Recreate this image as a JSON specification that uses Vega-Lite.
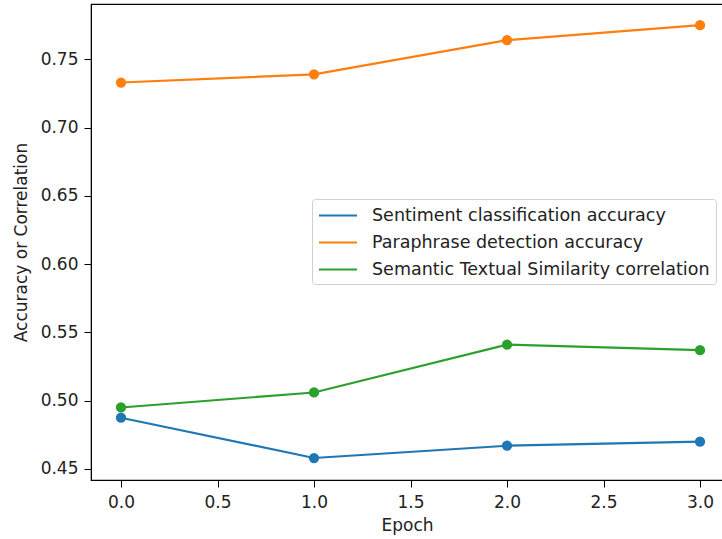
{
  "$schema": "https://vega.github.io/schema/vega-lite/v6.json",
  "autosize": {"type": "none"},
  "width": 632,
  "height": 476,
  "padding": {"left": 91, "top": 4, "right": 0, "bottom": 59},
  "background": "white",
  "config": {
    "view": {"stroke": "#000", "strokeWidth": 1.2},
    "font": "DejaVu Sans",
    "axis": {
      "grid": false,
      "domainColor": "#000",
      "tickColor": "#000",
      "tickSize": 7,
      "labelFontSize": 17,
      "labelColor": "#222",
      "titleFontSize": 17,
      "titleFontWeight": "normal",
      "titleColor": "#222",
      "labelFont": "DejaVu Sans",
      "titleFont": "DejaVu Sans"
    }
  },
  "data": {
    "values": [
      {"epoch": 0, "metric": "Sentiment classification accuracy", "value": 0.4875},
      {"epoch": 1, "metric": "Sentiment classification accuracy", "value": 0.458},
      {"epoch": 2, "metric": "Sentiment classification accuracy", "value": 0.467},
      {"epoch": 3, "metric": "Sentiment classification accuracy", "value": 0.470},
      {"epoch": 0, "metric": "Paraphrase detection accuracy", "value": 0.733},
      {"epoch": 1, "metric": "Paraphrase detection accuracy", "value": 0.739},
      {"epoch": 2, "metric": "Paraphrase detection accuracy", "value": 0.764},
      {"epoch": 3, "metric": "Paraphrase detection accuracy", "value": 0.775},
      {"epoch": 0, "metric": "Semantic Textual Similarity correlation", "value": 0.495},
      {"epoch": 1, "metric": "Semantic Textual Similarity correlation", "value": 0.506},
      {"epoch": 2, "metric": "Semantic Textual Similarity correlation", "value": 0.541},
      {"epoch": 3, "metric": "Semantic Textual Similarity correlation", "value": 0.537}
    ]
  },
  "encoding": {
    "x": {
      "field": "epoch", "type": "quantitative",
      "scale": {"domain": [-0.1554, 3.119], "nice": false, "zero": false},
      "axis": {"values": [0, 0.5, 1, 1.5, 2, 2.5, 3], "format": ".1f", "title": "Epoch", "labelPadding": 7, "titlePadding": 7}
    },
    "y": {
      "field": "value", "type": "quantitative",
      "scale": {"domain": [0.4419, 0.7905], "nice": false, "zero": false},
      "axis": {"values": [0.45, 0.5, 0.55, 0.6, 0.65, 0.7, 0.75], "format": ".2f", "title": "Accuracy or Correlation", "labelPadding": 6, "titlePadding": 10}
    },
    "color": {
      "field": "metric", "type": "nominal",
      "scale": {
        "domain": ["Sentiment classification accuracy", "Paraphrase detection accuracy", "Semantic Textual Similarity correlation"],
        "range": ["#1f77b4", "#ff7f0e", "#2ca02c"]
      },
      "legend": {
        "title": null,
        "orient": "none",
        "legendX": 221,
        "legendY": 195,
        "symbolType": "M-1,0L3,0",
        "symbolSize": 361,
        "symbolStrokeWidth": 2,
        "symbolOpacity": 1,
        "labelFontSize": 17.5,
        "labelColor": "#222",
        "labelFont": "DejaVu Sans",
        "labelOffset": 33,
        "rowPadding": 8,
        "padding": 6,
        "strokeColor": "#d0d0d0",
        "fillColor": "white",
        "cornerRadius": 3,
        "labelLimit": 500
      }
    }
  },
  "layer": [
    {"mark": {"type": "line", "strokeWidth": 2.2}},
    {"mark": {"type": "circle", "size": 105, "opacity": 1}}
  ]
}
